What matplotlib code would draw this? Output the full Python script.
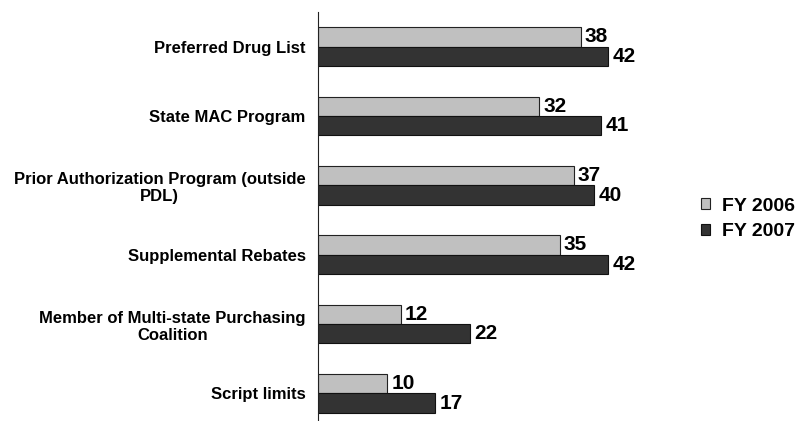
import numpy as np
import matplotlib.pyplot as plt

plt.rcParams['font.family'] = ['Liberation Sans', 'DejaVu Sans']

categories = ['Preferred Drug List', 'State MAC Program',
              'Prior Authorization Program (outside\nPDL)', 'Supplemental Rebates',
              'Member of Multi-state Purchasing\nCoalition', 'Script limits']
fy2006 = [38, 32, 37, 35, 12, 10]
fy2007 = [42, 41, 40, 42, 22, 17]

fig = plt.figure(figsize=(7.99, 4.21), dpi=100)
ax = fig.add_axes([318 / 799, 1 - 428 / 421, 380 / 799, 416 / 421])

y = np.arange(len(categories))
h = 0.28
b1 = ax.barh(y - h / 2, fy2006, height=h, color='#c0c0c0', edgecolor='#222222', linewidth=0.8, label='FY 2006')
b2 = ax.barh(y + h / 2, fy2007, height=h, color='#333333', edgecolor='#111111', linewidth=0.8, label='FY 2007')

for bars in (b1, b2):
    for r in bars:
        ax.text(r.get_width() + 0.6, r.get_y() + r.get_height() / 2, str(int(r.get_width())),
                va='center', ha='left', fontsize=15, fontweight='bold')

ax.set_ylim(len(categories) - 0.5, -0.5)
ax.set_xlim(0, 55)
ax.set_yticks(y)
ax.set_yticklabels(categories, fontsize=12, fontweight='bold', ha='right', multialignment='center')
ax.tick_params(axis='y', length=0, pad=9)
ax.set_xticks([])
for s in ['top', 'right', 'bottom']:
    ax.spines[s].set_visible(False)
ax.spines['left'].set_color('#222222')

fig.legend(handles=[b1, b2], loc='center left', bbox_to_anchor=(701 / 799, 1 - 219 / 421),
           frameon=False, prop={'size': 14, 'weight': 'bold'}, handlelength=0.46, handleheight=0.46,
           handletextpad=0.6, labelspacing=0.45, borderpad=0, borderaxespad=0)

fig.savefig('out.png', dpi=100)
